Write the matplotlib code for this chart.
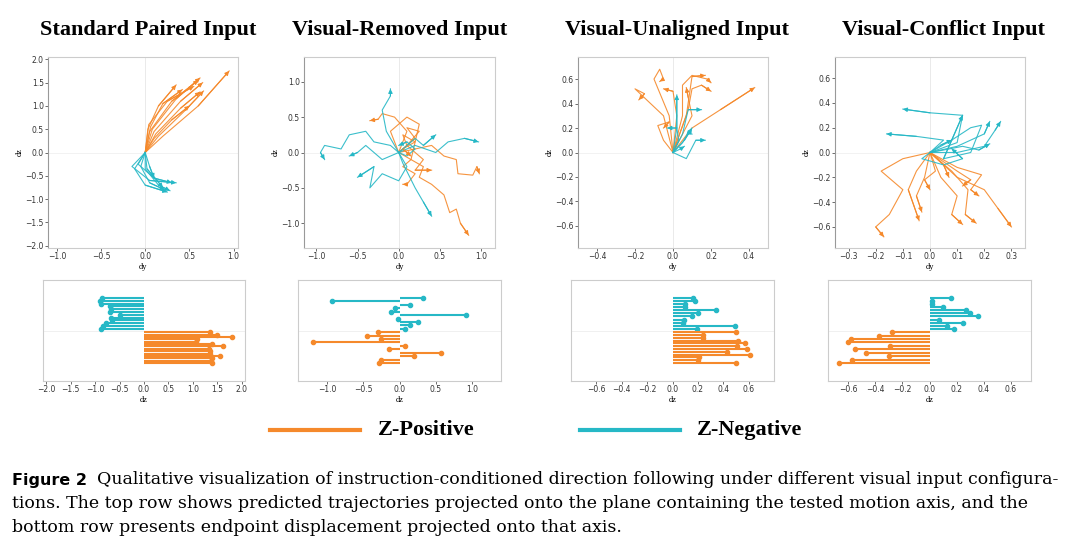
import matplotlib
matplotlib.use("Agg")
import matplotlib.pyplot as plt
import numpy as np

ORANGE = "#f5892b"
BLUE = "#26b8c6"

titles = ["Standard Paired Input", "Visual-Removed Input", "Visual-Unaligned Input", "Visual-Conflict Input"]

# trajectories (dy, dz) waypoints, per panel
traj_pos = [
    [[(0, 0), (0.03, 0.5), (0.15, 1.0), (0.35, 1.45)],
     [(0, 0), (0.05, 0.45), (0.3, 1.1), (0.6, 1.55)],
     [(0, 0), (0.08, 0.5), (0.35, 1.15), (0.62, 1.6)],
     [(0, 0), (0.1, 0.45), (0.4, 1.1), (0.65, 1.5)],
     [(0, 0), (0.06, 0.55), (0.2, 1.05), (0.42, 1.35)],
     [(0, 0), (0.12, 0.4), (0.4, 0.95), (0.62, 1.3)],
     [(0, 0), (0.15, 0.35), (0.45, 0.9), (0.66, 1.32)],
     [(0, 0), (0.1, 0.3), (0.3, 0.7), (0.5, 1.0)],
     [(0, 0), (0.2, 0.35), (0.6, 1.0), (0.95, 1.75)],
     [(0, 0), (0.04, 0.6), (0.25, 1.1), (0.55, 1.42)]],
    [[(0, 0), (0.1, 0.1), (0.05, 0.25), (0.2, 0.15), (0.15, -0.1), (0.3, -0.2), (0.25, -0.35), (0.4, -0.45), (0.55, -0.6), (0.62, -0.85), (0.7, -0.8), (0.75, -1.0), (0.85, -1.17)],
     [(0, 0), (0.2, 0.05), (0.4, 0.1), (0.55, -0.05), (0.7, -0.1), (0.72, -0.3), (0.9, -0.32), (0.95, -0.2), (0.98, -0.3)],
     [(0, 0), (0.1, 0.3), (-0.05, 0.5), (-0.2, 0.55), (-0.25, 0.47), (-0.35, 0.45)],
     [(0, 0), (0.15, -0.1), (0.05, -0.2), (0.2, -0.3), (0.1, -0.45), (0.05, -0.45)],
     [(0, 0), (0.2, 0.2), (0.1, 0.35), (0.25, 0.3), (0.1, 0.1), (0.3, -0.1), (0.2, -0.25), (0.4, -0.25)],
     [(0, 0), (-0.1, 0.3), (0.1, 0.5), (0.25, 0.4), (0.2, 0.15), (0.05, 0.05), (0.15, -0.05)]],
    [[(0, 0), (-0.05, 0.3), (-0.2, 0.52), (-0.15, 0.48), (-0.18, 0.43)],
     [(0, 0), (-0.02, 0.3), (-0.1, 0.6), (-0.07, 0.68), (-0.05, 0.6), (-0.07, 0.58)],
     [(0, 0), (0.05, 0.3), (0.05, 0.55), (0.1, 0.63), (0.18, 0.6), (0.2, 0.57)],
     [(0, 0), (0.08, 0.35), (0.1, 0.52), (0.15, 0.55), (0.2, 0.5)],
     [(0, 0), (0.1, 0.2), (0.25, 0.35), (0.43, 0.53)],
     [(0, 0), (0.02, 0.3), (0.0, 0.5), (-0.05, 0.52)],
     [(0, 0), (0.07, 0.3), (0.1, 0.62), (0.17, 0.63)],
     [(0, 0), (-0.05, 0.1), (-0.08, 0.22), (-0.02, 0.25), (-0.05, 0.2)],
     [(0, 0), (0.1, 0.3), (0.08, 0.45), (0.07, 0.53)]],
    [[(0, 0), (-0.1, -0.05), (-0.18, -0.15), (-0.1, -0.3), (-0.15, -0.5), (-0.2, -0.6), (-0.17, -0.68)],
     [(0, 0), (-0.05, -0.15), (-0.08, -0.3), (-0.04, -0.55)],
     [(0, 0), (-0.02, -0.2), (-0.05, -0.35), (-0.03, -0.48)],
     [(0, 0), (0.02, -0.15), (-0.02, -0.22), (0.0, -0.3)],
     [(0, 0), (0.04, -0.2), (0.1, -0.35), (0.08, -0.5), (0.12, -0.58)],
     [(0, 0), (0.08, -0.15), (0.14, -0.3), (0.13, -0.5), (0.17, -0.57)],
     [(0, 0), (0.1, -0.12), (0.19, -0.18), (0.15, -0.3), (0.18, -0.35)],
     [(0, 0), (0.1, -0.2), (0.2, -0.3), (0.25, -0.45), (0.3, -0.6)],
     [(0, 0), (0.1, -0.15), (0.15, -0.22), (0.12, -0.27)],
     [(0, 0), (0.05, -0.1), (0.07, -0.2)]],
]
traj_neg = [
    [[(0, 0), (-0.15, -0.3), (0.05, -0.6), (0.35, -0.65)],
     [(0, 0), (-0.08, -0.25), (0.1, -0.55), (0.3, -0.65)],
     [(0, 0), (-0.05, -0.3), (0.05, -0.65), (0.22, -0.8)],
     [(0, 0), (-0.12, -0.35), (0.0, -0.7), (0.25, -0.85)],
     [(0, 0), (0.0, -0.35), (0.15, -0.7), (0.28, -0.82)],
     [(0, 0), (0.05, -0.3), (0.1, -0.55)],
     [(0, 0), (0.02, -0.35), (0.2, -0.75)]],
    [[(0, 0), (-0.1, 0.1), (-0.3, 0.15), (-0.4, 0.3), (-0.6, 0.25), (-0.7, 0.05), (-0.9, 0.1), (-0.95, 0.0), (-0.9, -0.1)],
     [(0, 0), (0.1, -0.2), (0.0, -0.4), (-0.2, -0.3), (-0.35, -0.5), (-0.3, -0.2), (-0.5, -0.35)],
     [(0, 0), (0.05, -0.15), (0.2, -0.5), (0.3, -0.7), (0.4, -0.9)],
     [(0, 0), (-0.15, 0.3), (-0.2, 0.6), (-0.1, 0.8), (-0.1, 0.9)],
     [(0, 0), (0.2, 0.1), (0.45, 0.0), (0.6, 0.15), (0.8, 0.2), (0.97, 0.15)],
     [(0, 0), (-0.2, -0.1), (-0.4, 0.1), (-0.5, 0.0), (-0.6, -0.05)],
     [(0, 0), (0.2, 0.2), (0.3, 0.1), (0.45, 0.25)],
     [(0, 0), (0.1, -0.05), (0.2, 0.05), (0.1, 0.15), (0.0, 0.1)]],
    [[(0, 0), (0.02, 0.2), (0.02, 0.47)],
     [(0, 0), (0.05, 0.15), (0.08, 0.35), (0.15, 0.35)],
     [(0, 0), (0.03, 0.1), (0.02, 0.2), (-0.03, 0.2)],
     [(0, 0), (0.06, 0.1), (0.1, 0.2)],
     [(0, 0), (0.07, -0.05), (0.12, 0.1), (0.17, 0.1)],
     [(0, 0), (0.05, 0.08), (0.08, 0.16), (0.1, 0.15)],
     [(0, 0), (0.04, 0.03), (0.06, 0.05)]],
    [[(0, 0), (0.1, 0.08), (0.12, 0.3), (0.0, 0.32), (-0.1, 0.35)],
     [(0, 0), (0.05, 0.1), (-0.05, 0.13), (-0.16, 0.15)],
     [(0, 0), (0.08, 0.1), (0.15, 0.2), (0.19, 0.22), (0.15, 0.0), (0.05, -0.05), (0.12, 0.3)],
     [(0, 0), (0.1, 0.05), (0.2, 0.15), (0.22, 0.25)],
     [(0, 0), (0.1, 0.0), (0.2, 0.05), (0.24, 0.18), (0.26, 0.25)],
     [(0, 0), (0.05, 0.02), (0.12, 0.05), (0.18, 0.02), (0.22, 0.07)],
     [(0, 0), (-0.03, -0.05), (0.05, -0.1), (0.12, -0.05), (0.08, 0.03)],
     [(0, 0), (0.04, 0.06), (0.08, 0.1)]],
]

# endpoint displacement (dz)
end_neg = [
    [-0.86, -0.9, -0.88, -0.69, -0.68, -0.7, -0.5, -0.67, -0.66, -0.78, -0.84, -0.88],
    [0.32, -0.93, 0.15, -0.06, -0.12, 0.92, -0.02, 0.26, 0.14, 0.08],
    [0.16, 0.18, 0.1, 0.1, 0.34, 0.2, 0.15, 0.09, 0.08, 0.49, 0.19],
    [0.16, 0.02, 0.02, 0.1, 0.27, 0.3, 0.36, 0.07, 0.25, 0.13, 0.18],
]
end_pos = [
    [1.35, 1.5, 1.8, 1.08, 1.07, 1.4, 1.62, 1.33, 1.35, 1.36, 1.55, 1.4, 1.38, 1.4],
    [-0.3, -0.45, -0.25, -1.2, 0.07, -0.14, 0.57, 0.2, -0.25, -0.28],
    [0.5, 0.24, 0.24, 0.52, 0.57, 0.51, 0.59, 0.43, 0.61, 0.21, 0.2, 0.5],
    [-0.28, -0.37, -0.58, -0.6, -0.29, -0.55, -0.47, -0.3, -0.57, -0.67],
]

top_xlim = [(-1.1, 1.05), (-1.15, 1.17), (-0.5, 0.5), (-0.35, 0.35)]
top_ylim = [(-2.05, 2.05), (-1.35, 1.35), (-0.78, 0.78), (-0.77, 0.77)]
top_xticks = [[-1, -0.5, 0, 0.5, 1], [-1, -0.5, 0, 0.5, 1], [-0.4, -0.2, 0, 0.2, 0.4], [-0.3, -0.2, -0.1, 0, 0.1, 0.2, 0.3]]
top_yticks = [[-2, -1.5, -1, -0.5, 0, 0.5, 1, 1.5, 2], [-1, -0.5, 0, 0.5, 1], [-0.6, -0.4, -0.2, 0, 0.2, 0.4, 0.6], [-0.6, -0.4, -0.2, 0, 0.2, 0.4, 0.6]]
bot_xlim = [(-2.07, 2.07), (-1.4, 1.4), (-0.8, 0.8), (-0.75, 0.75)]
bot_xticks = [[-2, -1.5, -1, -0.5, 0, 0.5, 1, 1.5, 2], [-1, -0.5, 0, 0.5, 1], [-0.6, -0.4, -0.2, 0, 0.2, 0.4, 0.6], [-0.6, -0.4, -0.2, 0, 0.2, 0.4, 0.6]]

W, H = 1080, 546
fig = plt.figure(figsize=(W / 100, H / 100), dpi=100)


def px_axes(x0, y0, x1, y1):
    return fig.add_axes([x0 / W, 1 - y1 / H, (x1 - x0) / W, (y1 - y0) / H])


top_x = [(48, 238), (304, 495), (578, 768), (835, 1025)]
bot_x = [(43, 245), (298, 501), (571, 774), (828, 1031)]
title_cx = [148, 400, 677, 943]


def fmt(v):
    s = "%g" % v
    if "." not in s:
        s += ".0"
    return s.replace("-", "\u2212")


def style(ax):
    for s in ax.spines.values():
        s.set_color("#cccccc")
        s.set_linewidth(0.8)
    ax.tick_params(labelsize=5.5, length=2, width=0.5, colors="#333333", pad=1)


for i in range(4):
    ax = px_axes(top_x[i][0], 57, top_x[i][1], 248)
    style(ax)
    ax.spines["left"].set_color("#999999")
    ax.axvline(0, color="#e6e6e6", lw=0.6, zorder=0)
    ax.axhline(0, color="#f0f0f0", lw=0.6, zorder=0)
    for trajs, c in ((traj_pos[i], ORANGE), (traj_neg[i], BLUE)):
        for t in trajs:
            t = np.array(t)
            ax.plot(t[:, 0], t[:, 1], color=c, lw=0.8, alpha=0.9)
            ax.annotate("", xy=t[-1], xytext=t[-2],
                        arrowprops=dict(arrowstyle="-|>", color=c, lw=0.8, mutation_scale=6, shrinkA=0, shrinkB=0))
    ax.set_xlim(top_xlim[i])
    ax.set_ylim(top_ylim[i])
    ax.set_xticks(top_xticks[i])
    ax.set_xticklabels([fmt(v) for v in top_xticks[i]])
    ax.set_yticks(top_yticks[i])
    ax.set_yticklabels([fmt(v) for v in top_yticks[i]])
    ax.set_xlabel("dy", fontsize=6, family="Liberation Serif", labelpad=1)
    ax.set_ylabel("dz", fontsize=6, family="Liberation Serif", labelpad=1)
    fig.text(title_cx[i] / W, 1 - 30 / H, titles[i], ha="center", va="center",
             fontsize=16, fontweight="bold", family="Liberation Serif")

    bx = px_axes(bot_x[i][0], 280, bot_x[i][1], 381)
    style(bx)
    bx.axhline(0, color="#eeeeee", lw=0.6, zorder=0)
    nn, npos = len(end_neg[i]), len(end_pos[i])
    yn = np.linspace(1.0, 0.05, nn)
    yp = np.linspace(-0.05, -1.0, npos)
    bx.hlines(yn, 0, end_neg[i], color=BLUE, lw=1.5)
    bx.plot(end_neg[i], yn, "o", color=BLUE, ms=3)
    bx.hlines(yp, 0, end_pos[i], color=ORANGE, lw=1.5)
    bx.plot(end_pos[i], yp, "o", color=ORANGE, ms=3)
    bx.set_ylim(-1.55, 1.55)
    bx.set_yticks([])
    bx.set_xlim(bot_xlim[i])
    bx.set_xticks(bot_xticks[i])
    bx.set_xticklabels([fmt(v) for v in bot_xticks[i]])
    bx.set_xlabel("dz", fontsize=6, family="Liberation Serif", labelpad=1)

# legend
fig.lines.append(plt.Line2D([270 / W, 360 / W], [1 - 430 / H] * 2, color=ORANGE, lw=3, transform=fig.transFigure))
fig.lines.append(plt.Line2D([580 / W, 680 / W], [1 - 430 / H] * 2, color=BLUE, lw=3, transform=fig.transFigure))
fig.text(378 / W, 1 - 430 / H, "Z-Positive", va="center", fontsize=16, fontweight="bold", family="Liberation Serif")
fig.text(697 / W, 1 - 430 / H, "Z-Negative", va="center", fontsize=16, fontweight="bold", family="Liberation Serif")

# caption
fig.text(12 / W, 1 - 480 / H, "Figure 2", va="center", fontsize=11.5, fontweight="bold", family="DejaVu Sans")
fig.text(97 / W, 1 - 480 / H,
         "Qualitative visualization of instruction-conditioned direction following under different visual input configura-",
         va="center", fontsize=12.5, family="DejaVu Serif")
fig.text(12 / W, 1 - 504 / H,
         "tions. The top row shows predicted trajectories projected onto the plane containing the tested motion axis, and the",
         va="center", fontsize=12.5, family="DejaVu Serif")
fig.text(12 / W, 1 - 528 / H, "bottom row presents endpoint displacement projected onto that axis.",
         va="center", fontsize=12.5, family="DejaVu Serif")

fig.savefig("out.png", dpi=100)
